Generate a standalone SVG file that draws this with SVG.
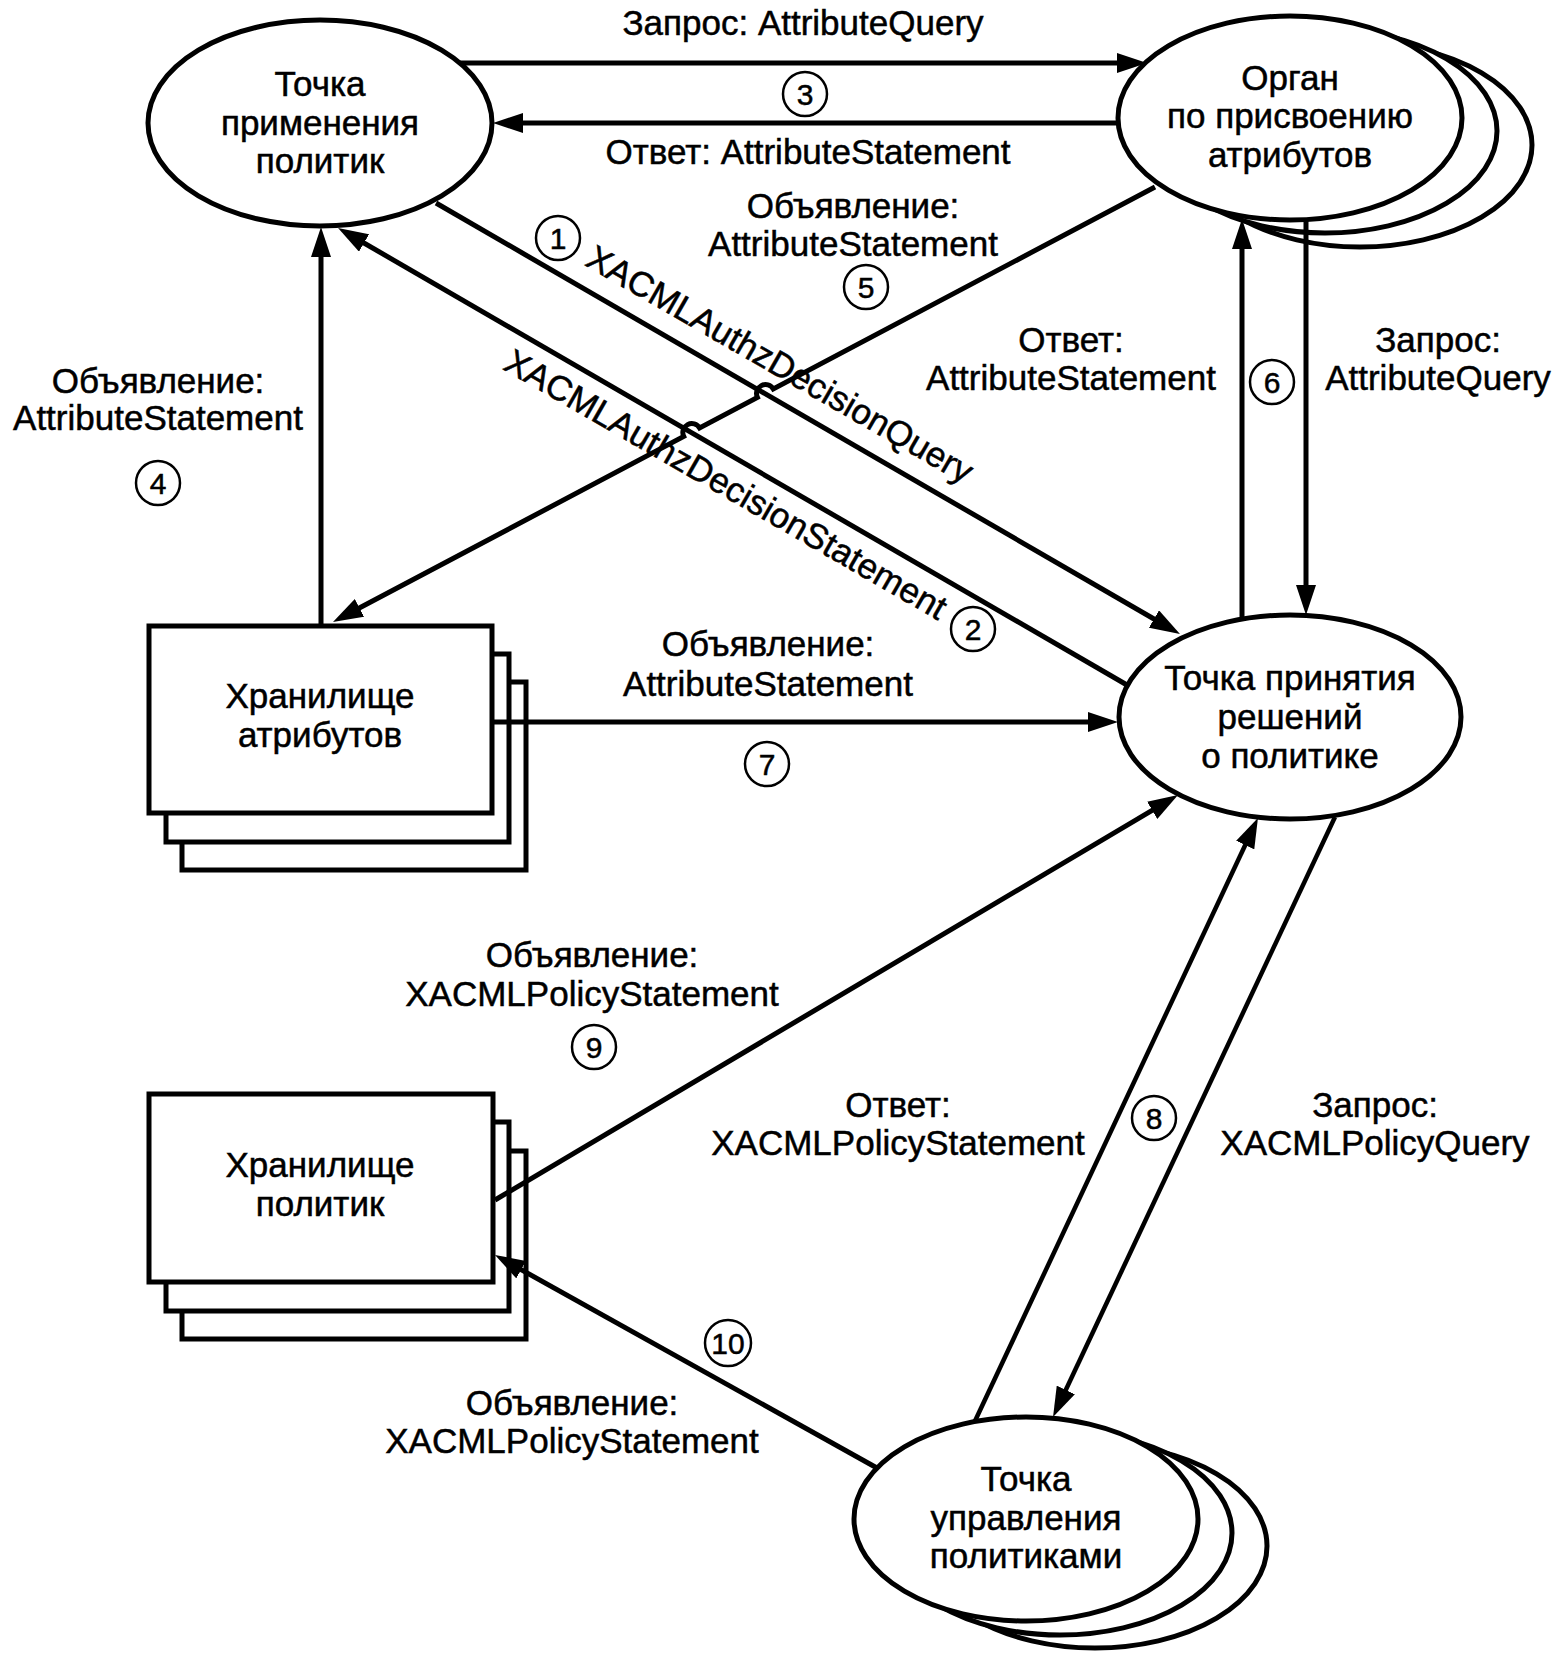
<svg xmlns="http://www.w3.org/2000/svg" width="1560" height="1658" viewBox="0 0 1560 1658">
<defs>
<style>
text{font-family:"Liberation Sans",Arial,Helvetica,sans-serif;font-size:35px;fill:#000;stroke:#000;stroke-width:0.5;text-anchor:middle}
.node{fill:#fff;stroke:#000;stroke-width:5}
.line{fill:none;stroke:#000;stroke-width:5}
.thin{fill:none;stroke:#000;stroke-width:4.5}
.num{fill:#fff;stroke:#000;stroke-width:2.5}
.n{font-size:30px}
</style>
<marker id="ah" viewBox="0 0 30 20" refX="20" refY="10" markerWidth="30" markerHeight="20" markerUnits="userSpaceOnUse" orient="auto">
<path d="M0,0 L30,10 L0,20 z" fill="#000"/>
</marker>
</defs>
<rect width="1560" height="1658" fill="#fff"/>

<g id="pep">
<ellipse class="node" cx="320" cy="123" rx="172" ry="103"/>
<text x="320" y="96">Точка</text>
<text x="320" y="135">применения</text>
<text x="320" y="173">политик</text>
</g>

<g id="attribute-authority">
<ellipse class="node" cx="1360" cy="145" rx="172" ry="102"/>
<ellipse class="node" cx="1325" cy="131" rx="172" ry="102"/>
<ellipse class="node" cx="1290" cy="118" rx="172" ry="102"/>
<text x="1290" y="90">Орган</text>
<text x="1290" y="128">по присвоению</text>
<text x="1290" y="167">атрибутов</text>
</g>

<g id="pdp">
<ellipse class="node" cx="1290" cy="717" rx="171" ry="102"/>
<text x="1290" y="690">Точка принятия</text>
<text x="1290" y="729">решений</text>
<text x="1290" y="768">о политике</text>
</g>

<g id="attribute-store">
<rect class="node" x="182" y="682" width="344" height="188"/>
<rect class="node" x="166" y="654" width="343" height="188"/>
<rect class="node" x="149" y="626" width="343" height="187"/>
<text x="320" y="708">Хранилище</text>
<text x="320" y="747">атрибутов</text>
</g>

<g id="policy-store">
<rect class="node" x="182" y="1151" width="344" height="188"/>
<rect class="node" x="166" y="1122" width="343" height="189"/>
<rect class="node" x="149" y="1094" width="344" height="188"/>
<text x="320" y="1177">Хранилище</text>
<text x="320" y="1216">политик</text>
</g>

<g id="pap">
<ellipse class="node" cx="1095" cy="1546" rx="172" ry="102"/>
<ellipse class="node" cx="1060" cy="1533" rx="172" ry="102"/>
<ellipse class="node" cx="1026" cy="1519" rx="172" ry="102"/>
<text x="1026" y="1491">Точка</text>
<text x="1026" y="1530">управления</text>
<text x="1026" y="1568">политиками</text>
</g>

<g id="connectors">
<path id="c3-query" class="line" d="M460,63 L1137,63" marker-end="url(#ah)"/>
<path id="c3-answer" class="line" d="M1118,123 L503,123" marker-end="url(#ah)"/>
<path id="c4" class="line" d="M321,624 L321,237" marker-end="url(#ah)"/>
<path id="c1" class="line" d="M436,203 L1171.3,629" marker-end="url(#ah)"/>
<path id="c2" class="line" d="M1127,685 L346.7,233" marker-end="url(#ah)"/>
<path id="c5" class="line" d="M1155,187 L773.3,389 A9,9 0 0 0 757.4,397.4 L699.6,428 A9,9 0 0 0 683.7,436.4 L341.8,617.3" marker-end="url(#ah)"/>
<path id="c6-answer" class="line" d="M1242,619 L1242,229" marker-end="url(#ah)"/>
<path id="c6-query" class="line" d="M1306,220 L1306,605" marker-end="url(#ah)"/>
<path id="c7" class="line" d="M493,722 L1108,722" marker-end="url(#ah)"/>
<path id="c9" class="line" d="M495,1200 L1169.4,800.1" marker-end="url(#ah)"/>
<path id="c10" class="line" d="M877,1468 L503.7,1259.9" marker-end="url(#ah)"/>
<path id="c8-answer" class="thin" d="M975,1421 L1253.7,827" marker-end="url(#ah)"/>
<path id="c8-query" class="thin" d="M1335,817 L1057.3,1408" marker-end="url(#ah)"/>
</g>

<g id="labels">
<text x="803" y="35">Запрос: AttributeQuery</text>
<text x="808" y="164">Ответ: AttributeStatement</text>
<text x="853" y="218">Объявление:</text>
<text x="853" y="256">AttributeStatement</text>
<text x="158" y="393">Объявление:</text>
<text x="158" y="430">AttributeStatement</text>
<text x="1071" y="352">Ответ:</text>
<text x="1071" y="390">AttributeStatement</text>
<text x="1438" y="352">Запрос:</text>
<text x="1438" y="390">AttributeQuery</text>
<text x="768" y="656">Объявление:</text>
<text x="768" y="696">AttributeStatement</text>
<text x="592" y="967">Объявление:</text>
<text x="592" y="1006">XACMLPolicyStatement</text>
<text x="898" y="1117">Ответ:</text>
<text x="898" y="1155">XACMLPolicyStatement</text>
<text x="1375" y="1117">Запрос:</text>
<text x="1375" y="1155">XACMLPolicyQuery</text>
<text x="572" y="1415">Объявление:</text>
<text x="572" y="1453">XACMLPolicyStatement</text>
<text transform="translate(764,392) rotate(30)" y="-20">XACMLAuthzDecisionQuery</text>
<text transform="translate(740,460) rotate(30)" y="40">XACMLAuthzDecisionStatement</text>
</g>

<g id="step-numbers">
<circle class="num" cx="558" cy="238" r="22"/><text class="n" x="558" y="249">1</text>
<circle class="num" cx="973" cy="629" r="22"/><text class="n" x="973" y="640">2</text>
<circle class="num" cx="805" cy="94" r="22"/><text class="n" x="805" y="105">3</text>
<circle class="num" cx="158" cy="483" r="22"/><text class="n" x="158" y="494">4</text>
<circle class="num" cx="866" cy="287" r="22"/><text class="n" x="866" y="298">5</text>
<circle class="num" cx="1272" cy="382" r="22"/><text class="n" x="1272" y="393">6</text>
<circle class="num" cx="767" cy="764" r="22"/><text class="n" x="767" y="775">7</text>
<circle class="num" cx="1154" cy="1118" r="22"/><text class="n" x="1154" y="1129">8</text>
<circle class="num" cx="594" cy="1047" r="22"/><text class="n" x="594" y="1058">9</text>
<circle class="num" cx="728" cy="1343" r="23"/><text class="n" x="728" y="1354">10</text>
</g>
</svg>
